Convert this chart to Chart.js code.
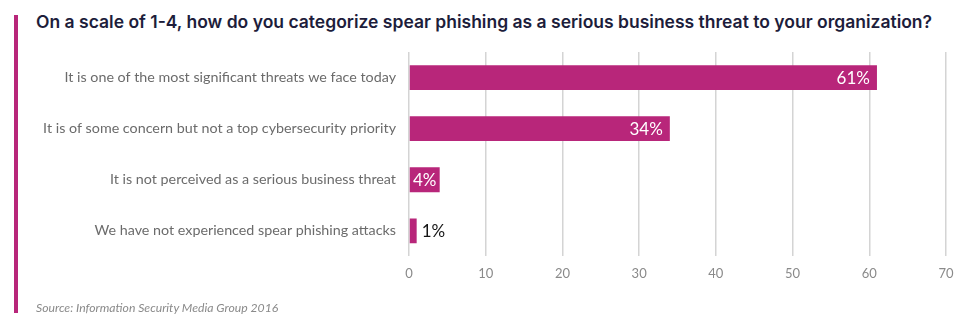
<!DOCTYPE html>
<html>
<head>
<meta charset="utf-8">
<script src="https://cdn.jsdelivr.net/npm/chart.js@4.4.0/dist/chart.umd.min.js"></script>
<style>
  html, body { margin: 0; padding: 0; background: #fff; }
  #wrap { position: relative; width: 975px; height: 326px; overflow: hidden; }
  #accent { position: absolute; left: 14px; top: 15px; width: 4px; height: 298px; background: #b8267a; }
  #title { position: absolute; left: 36px; top: 11px; font: 600 17.5px Inter, sans-serif; color: #1d1d3b; white-space: nowrap; }
  #source { position: absolute; left: 36px; top: 300px; font: italic 12.2px Lato, sans-serif; color: #8a8a8a; }
  #chartBox { position: absolute; left: 0; top: 0; width: 975px; height: 326px; }
</style>
</head>
<body>
<div id="wrap">
  <div id="accent"></div>
  <div id="title">On a scale of 1-4, how do you categorize spear phishing as a serious business threat to your organization?</div>
  <div id="chartBox"><canvas id="myChart"></canvas></div>
  <div id="source">Source: Information Security Media Group 2016</div>
</div>
<script>
var categories = [
  "It is one of the most significant threats we face today",
  "It is of some concern but not a top cybersecurity priority",
  "It is not perceived as a serious business threat",
  "We have not experienced spear phishing attacks"
];
var percents = [61, 34, 4, 1];
var xTicks = [0, 10, 20, 30, 40, 50, 60, 70];

var barColor = "#b8267a";

// value labels: inside the bar end when it fits, otherwise just past it
var valueLabels = {
  id: "valueLabels",
  afterDatasetsDraw: function(chart) {
    var ctx = chart.ctx;
    var meta = chart.getDatasetMeta(0);
    ctx.save();
    ctx.font = "17px Lato, sans-serif";
    ctx.textBaseline = "middle";
    meta.data.forEach(function(bar, i) {
      var txt = percents[i] + "%";
      var w = ctx.measureText(txt).width;
      var len = bar.x - bar.base;
      if (len > w + 4) {
        var inset = Math.min(7, (len - w) / 2);
        ctx.fillStyle = "#ffffff";
        ctx.textAlign = "right";
        ctx.fillText(txt, bar.x - inset, bar.y + 1);
      } else {
        ctx.fillStyle = "#151515";
        ctx.textAlign = "left";
        ctx.fillText(txt, bar.x + 5, bar.y + 1);
      }
    });
    ctx.restore();
  }
};

var ctx1 = document.getElementById("myChart").getContext("2d");
var myChart = new Chart(ctx1, {
  type: "bar",
  data: {
    labels: categories,
    datasets: [{
      data: percents,
      backgroundColor: barColor,
      borderWidth: 0,
      barPercentage: 0.97,
      categoryPercentage: 0.5
    }]
  },
  options: {
    indexAxis: "y",
    responsive: true,
    maintainAspectRatio: false,
    animation: false,
    layout: { padding: { left: 0, right: 29, top: 52, bottom: 34 } },
    plugins: {
      legend: { display: false },
      tooltip: { enabled: false }
    },
    scales: {
      x: {
        min: 0,
        max: 70,
        afterBuildTicks: function(scale) {
          scale.ticks = xTicks.map(function(v) { return { value: v }; });
        },
        grid: { color: "#d4d4d4", lineWidth: 1.5, drawTicks: false },
        border: { display: false },
        ticks: { color: "#8a8a8a", font: { family: "Lato", size: 13 }, padding: 10 }
      },
      y: {
        afterFit: function(scale) { scale.width = 409; },
        grid: { display: false },
        border: { display: false },
        ticks: { color: "#6b6b6b", font: { family: "Lato", size: 14.3 }, padding: 5 }
      }
    }
  },
  plugins: [valueLabels]
});
</script>
</body>
</html>
